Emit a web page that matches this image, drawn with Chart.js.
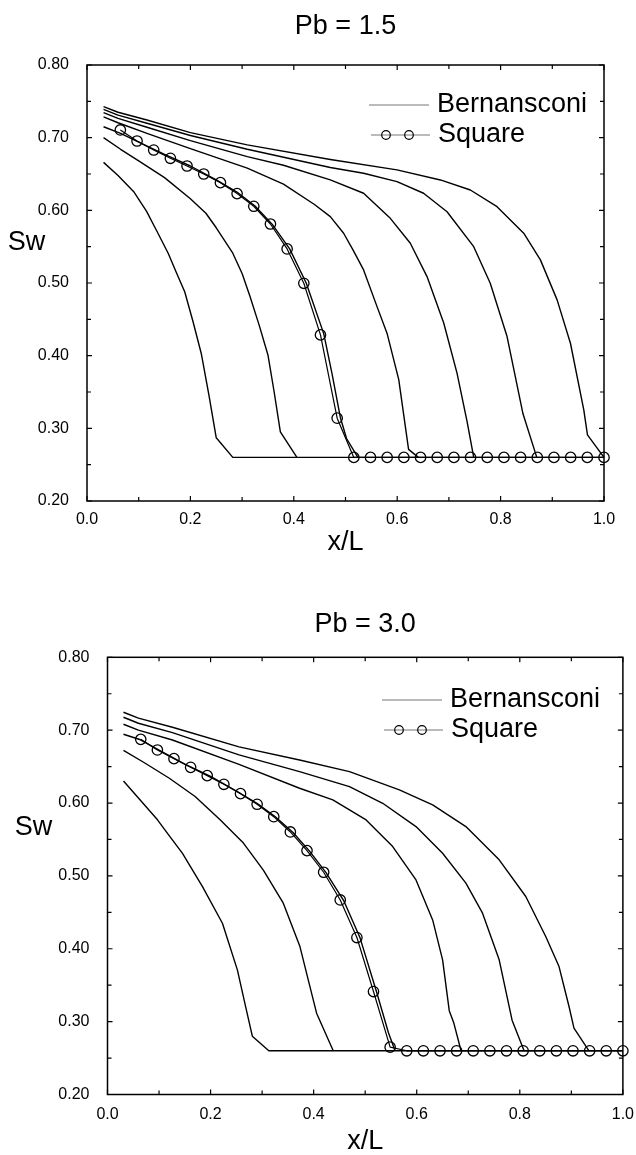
<!DOCTYPE html>
<html>
<head>
<meta charset="utf-8">
<title>Sw profiles</title>
<script src="https://cdn.jsdelivr.net/npm/chart.js@4.4.1/dist/chart.umd.min.js"></script>
<style>
  html, body { margin: 0; padding: 0; background: #fff; overflow: hidden; }
  .plot { position: absolute; left: 0; }
</style>
</head>
<body>
<div class="plot" style="top:0"><canvas id="chart15" width="636" height="590"></canvas></div>
<div class="plot" style="top:590px"><canvas id="chart30" width="636" height="575"></canvas></div>
<script>
// tick positions (labels every other x tick / every other y tick)
const xTicks = [0.0, 0.1, 0.2, 0.3, 0.4, 0.5, 0.6, 0.7, 0.8, 0.9, 1.0];
const yTicks = [0.20, 0.25, 0.30, 0.35, 0.40, 0.45, 0.50, 0.55, 0.60, 0.65, 0.70, 0.75, 0.80];

// x/L nodes of the Square run (same grid for both Pb)
const squareX = [0.0645, 0.0968, 0.1290, 0.1613, 0.1935, 0.2258, 0.2581, 0.2903, 0.3226, 0.3548,
  0.3871, 0.4194, 0.4516, 0.4839, 0.5161, 0.5484, 0.5806, 0.6129, 0.6452, 0.6774,
  0.7097, 0.7419, 0.7742, 0.8065, 0.8387, 0.8710, 0.9032, 0.9355, 0.9677, 1.0000];

// ---- Pb = 1.5 ----
const square15 = [0.7106, 0.6954, 0.683, 0.6716, 0.661, 0.65, 0.6381, 0.623, 0.6056, 0.5812,
  0.5469, 0.4996, 0.4286, 0.314, 0.26, 0.26, 0.26, 0.26, 0.26, 0.26,
  0.26, 0.26, 0.26, 0.26, 0.26, 0.26, 0.26, 0.26, 0.26, 0.26];

const bern15a = [[0.032,0.666],[0.06,0.648],[0.09,0.626],[0.115,0.599],[0.134,0.573],[0.157,0.541],[0.173,0.514],
  [0.189,0.488],[0.205,0.447],[0.221,0.403],[0.236,0.345],[0.25,0.287],[0.282,0.26],[1.0,0.26]];
const bern15b = [[0.032,0.700],[0.065,0.684],[0.1,0.668],[0.15,0.645],[0.2,0.616],[0.23,0.596],[0.25,0.576],
  [0.282,0.541],[0.3,0.513],[0.315,0.482],[0.333,0.442],[0.35,0.401],[0.362,0.35],[0.374,0.295],[0.406,0.26]];
const bern15c = [[0.032,0.715],[0.065,0.706],[0.1,0.694],[0.15,0.677],[0.2,0.661],[0.25,0.642],[0.29,0.625],
  [0.325,0.606],[0.358,0.581],[0.392,0.547],[0.424,0.50],[0.458,0.43],[0.474,0.375],[0.49,0.315],[0.502,0.286],[0.524,0.26]];
const bern15d = [[0.032,0.7285],[0.06,0.7205],[0.116,0.706],[0.2,0.685],[0.31,0.658],[0.38,0.636],[0.44,0.608],
  [0.4706,0.5914],[0.4964,0.5685],[0.515,0.545],[0.535,0.518],[0.561,0.4675],[0.5803,0.431],[0.603,0.367],[0.622,0.271],[0.641,0.26]];
const bern15e = [[0.032,0.7345],[0.06,0.7265],[0.116,0.7143],[0.2,0.696],[0.31,0.674],[0.38,0.662],[0.4706,0.642],
  [0.535,0.6235],[0.5867,0.589],[0.6254,0.5547],[0.6577,0.5088],[0.69,0.445],[0.7157,0.376],[0.735,0.31],[0.748,0.26]];
const bern15f = [[0.032,0.739],[0.06,0.731],[0.116,0.7198],[0.2,0.703],[0.31,0.684],[0.4706,0.659],[0.535,0.651],
  [0.5996,0.6395],[0.651,0.6235],[0.6964,0.598],[0.748,0.55],[0.78,0.4997],[0.8125,0.4263],[0.8433,0.32],[0.87,0.26]];
const bern15g = [[0.032,0.7427],[0.06,0.735],[0.116,0.7243],[0.2,0.707],[0.31,0.69],[0.4706,0.670],[0.5996,0.6556],
  [0.6835,0.6418],[0.7415,0.628],[0.7931,0.605],[0.8447,0.5685],[0.877,0.5318],[0.9093,0.4768],[0.9351,0.4171],
  [0.9609,0.3254],[0.968,0.291],[1.0,0.26]];

// ---- Pb = 3.0 ----
const square30 = [0.6874, 0.6728, 0.6609, 0.649, 0.6376, 0.6257, 0.6129, 0.5983, 0.5813, 0.5603,
  0.5347, 0.505, 0.467, 0.4154, 0.3413, 0.265, 0.26, 0.26, 0.26, 0.26,
  0.26, 0.26, 0.26, 0.26, 0.26, 0.26, 0.26, 0.26, 0.26, 0.26];

const bern30a = [[0.031,0.6303],[0.06,0.607],[0.097,0.577],[0.12,0.555],[0.1455,0.531],[0.1843,0.4853],[0.223,0.435],
  [0.252,0.371],[0.268,0.3207],[0.281,0.28],[0.313,0.26],[1.0,0.26]];
const bern30b = [[0.031,0.6723],[0.07,0.656],[0.12,0.634],[0.17,0.609],[0.2185,0.577],[0.2637,0.545],[0.3024,0.508],
  [0.3411,0.4625],[0.3734,0.403],[0.3895,0.3574],[0.4057,0.3116],[0.438,0.26]];
const bern30c = [[0.031,0.6944],[0.064,0.6868],[0.1,0.6725],[0.15,0.6535],[0.2,0.6365],[0.25,0.6165],[0.29,0.5995],
  [0.325,0.5815],[0.36,0.5595],[0.392,0.534],[0.424,0.5045],[0.458,0.4665],[0.49,0.415],[0.522,0.341],[0.545,0.285],[0.558,0.26]];
const bern30d = [[0.031,0.7081],[0.06,0.700],[0.126,0.6865],[0.2552,0.653],[0.3727,0.6203],[0.4372,0.6043],[0.5018,0.5768],
  [0.5534,0.5402],[0.5986,0.4945],[0.6309,0.4396],[0.6502,0.3848],[0.6631,0.315],[0.672,0.298],[0.686,0.26]];
const bern30e = [[0.031,0.7177],[0.06,0.7095],[0.126,0.6966],[0.2552,0.666],[0.3727,0.6431],[0.4695,0.6225],[0.534,0.5997],
  [0.5986,0.5677],[0.6502,0.5311],[0.6954,0.49],[0.7277,0.4488],[0.76,0.3848],[0.7793,0.3208],[0.785,0.302],[0.8083,0.26]];
const bern30f = [[0.031,0.7246],[0.06,0.7165],[0.126,0.704],[0.2552,0.677],[0.3727,0.6591],[0.4695,0.6431],[0.5663,0.618],
  [0.6309,0.5974],[0.6954,0.5677],[0.76,0.522],[0.8116,0.4717],[0.8503,0.4168],[0.8761,0.3756],[0.8955,0.3208],
  [0.9051,0.2911],[0.9342,0.26]];

const FONT = '"Liberation Sans", Arial, Helvetica, sans-serif';

const toPts = arr => arr.map(p => ({x: p[0], y: p[1]}));

function bernSet(arr) {
  return {
    label: 'Bernansconi',
    data: toPts(arr),
    borderColor: '#000',
    borderWidth: 1.4,
    borderJoinStyle: 'round',
    pointRadius: 0,
    tension: 0,
    clip: 8
  };
}

function squareSet(ys) {
  return {
    label: 'Square',
    data: squareX.map((x, i) => ({x: x, y: ys[i]})),
    borderColor: '#000',
    borderWidth: 1.2,
    borderJoinStyle: 'round',
    pointRadius: 5.2,
    pointBorderWidth: 1.3,
    pointBorderColor: '#000',
    pointBackgroundColor: 'rgba(0,0,0,0)',
    tension: 0,
    clip: 8
  };
}

// box around the plot + inward ticks on all four sides
const frameTicks = {
  id: 'frameTicks',
  afterDatasetsDraw(chart) {
    const {ctx, chartArea: a, scales: {x, y}} = chart;
    ctx.save();
    ctx.strokeStyle = '#000';
    ctx.lineWidth = 1.5;
    ctx.strokeRect(a.left, a.top, a.right - a.left, a.bottom - a.top);
    ctx.lineWidth = 1.2;
    ctx.beginPath();
    xTicks.forEach((v, i) => {
      const px = x.getPixelForValue(v);
      const len = i % 2 === 0 ? 5 : 4;
      ctx.moveTo(px, a.bottom); ctx.lineTo(px, a.bottom - len);
      ctx.moveTo(px, a.top); ctx.lineTo(px, a.top + len);
    });
    yTicks.forEach((v, i) => {
      const py = y.getPixelForValue(v);
      const len = i % 2 === 0 ? 5 : 4;
      ctx.moveTo(a.left, py); ctx.lineTo(a.left + len, py);
      ctx.moveTo(a.right, py); ctx.lineTo(a.right - len, py);
    });
    ctx.stroke();
    ctx.restore();
  }
};

// horizontal "Sw" label beside the y axis
const swLabel = {
  id: 'swLabel',
  afterDraw(chart, args, opts) {
    const {ctx, scales: {y}} = chart;
    ctx.save();
    ctx.fillStyle = '#000';
    ctx.font = '27px ' + FONT;
    ctx.textAlign = 'center';
    ctx.textBaseline = 'middle';
    ctx.fillText('Sw', opts.x, y.getPixelForValue(opts.at));
    ctx.restore();
  }
};

// legend drawn inside the plot, top right
const keyBox = {
  id: 'keyBox',
  afterDraw(chart, args, opts) {
    const ctx = chart.ctx;
    const x0 = opts.x, r1 = opts.y, r2 = opts.y + 30;
    ctx.save();
    ctx.strokeStyle = '#777';
    ctx.lineWidth = 1;
    ctx.beginPath();
    ctx.moveTo(x0, r1); ctx.lineTo(x0 + 60, r1);
    ctx.moveTo(x0 + 2, r2); ctx.lineTo(x0 + 61, r2);
    ctx.stroke();
    ctx.strokeStyle = '#000';
    ctx.lineWidth = 1.2;
    [x0 + 17, x0 + 40].forEach(cx => {
      ctx.beginPath();
      ctx.arc(cx, r2, 4.3, 0, Math.PI * 2);
      ctx.stroke();
    });
    ctx.fillStyle = '#000';
    ctx.font = '27px ' + FONT;
    ctx.textBaseline = 'middle';
    ctx.fillText('Bernansconi', x0 + 68, r1);
    ctx.fillText('Square', x0 + 69, r2);
    ctx.restore();
  }
};

function makeChart(id, title, datasets, lay) {
  return new Chart(document.getElementById(id), {
    type: 'line',
    data: {datasets: datasets},
    options: {
      responsive: false,
      animation: false,
      events: [],
      layout: {padding: {left: 0, right: lay.padRight, top: 0, bottom: 0}},
      plugins: {
        legend: {display: false},
        tooltip: {enabled: false},
        title: {
          display: true,
          text: title,
          fullSize: false,
          color: '#000',
          font: {family: FONT, size: 27, weight: 'normal'},
          padding: {top: lay.titleTop, bottom: lay.titleBottom}
        },
        swLabel: {x: lay.swX, at: lay.swAt},
        keyBox: {x: lay.keyX, y: lay.keyY}
      },
      scales: {
        x: {
          type: 'linear',
          min: 0,
          max: 1,
          grid: {display: false},
          border: {display: false},
          ticks: {
            stepSize: 0.2,
            padding: lay.xPad,
            color: '#000',
            font: {family: FONT, size: 16},
            callback: v => v.toFixed(1)
          },
          title: {
            display: true,
            text: 'x/L',
            color: '#000',
            font: {family: FONT, size: 27},
            padding: {top: 0, bottom: lay.xTitleBottom}
          },
          afterFit: s => { s.height = lay.xHeight; }
        },
        y: {
          type: 'linear',
          min: 0.2,
          max: 0.8,
          grid: {display: false},
          border: {display: false},
          ticks: {
            stepSize: 0.1,
            padding: 10,
            color: '#000',
            font: {family: FONT, size: 16},
            callback: v => v.toFixed(2)
          },
          afterFit: s => { s.width = lay.yWidth; }
        }
      }
    },
    plugins: [frameTicks, swLabel, keyBox]
  });
}

makeChart('chart15', 'Pb = 1.5',
  [bern15a, bern15b, bern15c, bern15d, bern15e, bern15f, bern15g].map(bernSet).concat([squareSet(square15)]),
  {padRight: 32, yWidth: 87, xHeight: 89, xPad: 1, xTitleBottom: 31,
   titleTop: 10, titleBottom: 22.6, swX: 26.4, swAt: 0.555, keyX: 369, keyY: 105});

makeChart('chart30', 'Pb = 3.0',
  [bern30a, bern30b, bern30c, bern30d, bern30e, bern30f].map(bernSet).concat([squareSet(square30)]),
  {padRight: 12, yWidth: 107.5, xHeight: 70.5, xPad: 2, xTitleBottom: 7.3,
   titleTop: 18, titleBottom: 16.9, swX: 33.6, swAt: 0.567, keyX: 382, keyY: 110});
</script>
</body>
</html>
